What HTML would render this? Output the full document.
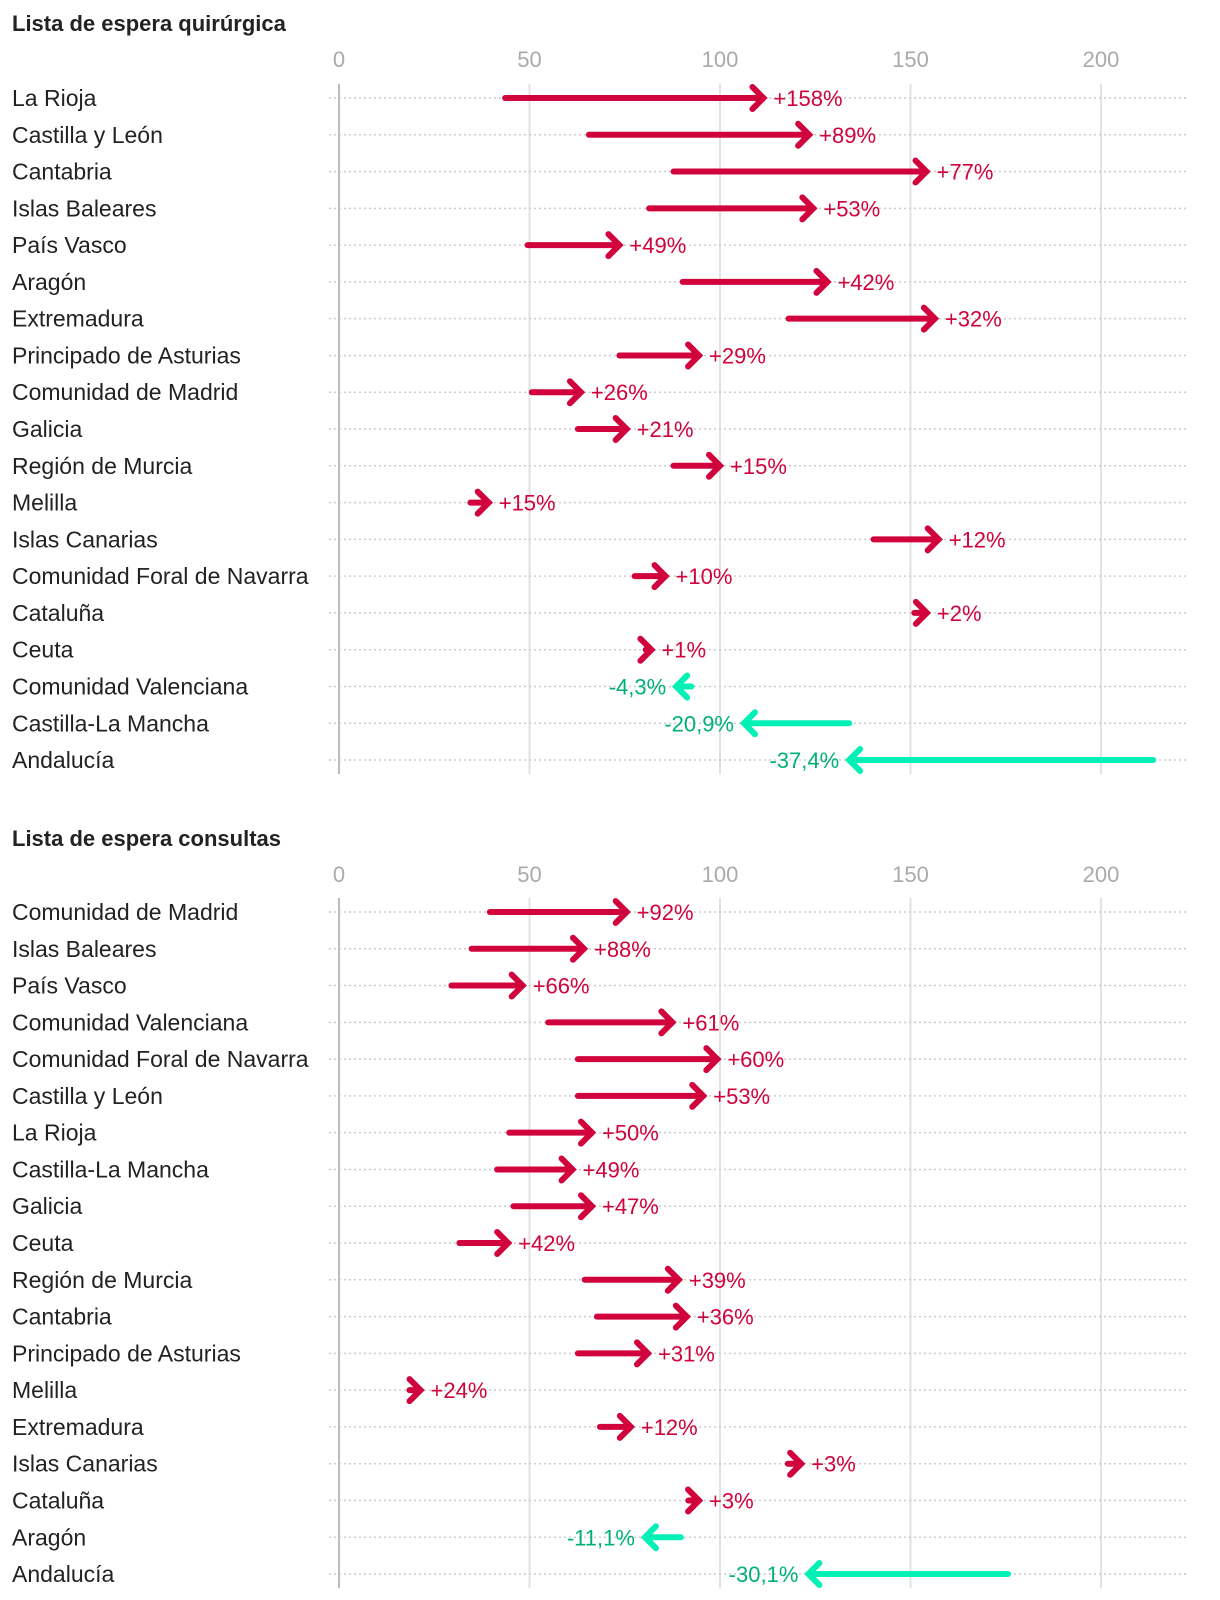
<!DOCTYPE html>
<html><head><meta charset="utf-8">
<style>
html,body{margin:0;padding:0;background:#fff;}
svg{display:block;font-family:"Liberation Sans",sans-serif;}
</style></head>
<body>
<svg id="chart" width="1220" height="1600" viewBox="0 0 1220 1600" xmlns="http://www.w3.org/2000/svg"></svg>
<script>
const ticks = [0, 50, 100, 150, 200];
const surgNames = ["La Rioja","Castilla y León","Cantabria","Islas Baleares","País Vasco","Aragón","Extremadura","Principado de Asturias","Comunidad de Madrid","Galicia","Región de Murcia","Melilla","Islas Canarias","Comunidad Foral de Navarra","Cataluña","Ceuta","Comunidad Valenciana","Castilla-La Mancha","Andalucía"];
const surgStart = [43.6,65.6,87.8,81.4,49.5,90.2,118,73.6,50.6,62.7,87.8,34.5,140.3,77.6,151,80.5,92.5,133.9,213.7];
const surgEnd = [111.4,123.4,154.2,124.5,73.6,128.2,156.4,94.5,63.5,75.5,100,39.3,157.4,85.7,154.3,82,88.5,106.3,133.9];
const surgLabels = ["+158%","+89%","+77%","+53%","+49%","+42%","+32%","+29%","+26%","+21%","+15%","+15%","+12%","+10%","+2%","+1%","-4,3%","-20,9%","-37,4%"];
const consNames = ["Comunidad de Madrid","Islas Baleares","País Vasco","Comunidad Valenciana","Comunidad Foral de Navarra","Castilla y León","La Rioja","Castilla-La Mancha","Galicia","Ceuta","Región de Murcia","Cantabria","Principado de Asturias","Melilla","Extremadura","Islas Canarias","Cataluña","Aragón","Andalucía"];
const consStart = [39.6,34.8,29.5,54.9,62.7,62.7,44.7,41.5,45.8,31.6,64.5,67.7,62.7,18.5,68.5,117.8,91.7,89.7,175.6];
const consEnd = [75.5,64.3,48.2,87.5,99.3,95.6,66.4,61.3,66.4,44.4,89.2,91.3,81.1,21.4,76.6,121.3,94.5,80.3,123.2];
const consLabels = ["+92%","+88%","+66%","+61%","+60%","+53%","+50%","+49%","+47%","+42%","+39%","+36%","+31%","+24%","+12%","+3%","+3%","-11,1%","-30,1%"];

const svg = document.getElementById('chart');
const NS = 'http://www.w3.org/2000/svg';
const x = v => 339 + v * 3.81;
function mk(tag, attrs, parent){const e=document.createElementNS(NS,tag);for(const k in attrs)e.setAttribute(k,attrs[k]);(parent||svg).appendChild(e);return e;}

function drawChart(key, title, titleY, tickY, row0, names, starts, ends, labels){
  const step = 36.78;
  const g = mk('g',{});
  
  
  const t = mk('text',{x:12,y:titleY,'font-size':22,'font-weight':'bold',fill:'#222'},g);
  t.textContent = title;
  
  
  const gTop = row0 - 14, gBot = row0 + step*(names.length-1) + 14;
  ticks.forEach(v=>{
    const l = mk('line',{x1:x(v),x2:x(v),y1:gTop,y2:gBot,stroke:v===0?'#bbb':'#e2e2e2','stroke-width':2},g);
    
    
    const tl = mk('text',{x:x(v),y:tickY,'font-size':22,fill:'#aaa','text-anchor':'middle'},g);
    tl.textContent = v;
    
    
  });
  names.forEach((n,i)=>{
    const y = row0 + i*step;
    const hl = mk('line',{x1:329,x2:1189,y1:y,y2:y,stroke:'#ccc','stroke-width':1.5,'stroke-dasharray':'2 3'},g);
    
    
    const lt = mk('text',{x:12,y:y+8,'font-size':23,fill:'#222'},g);
    lt.textContent = n;
    
    
    const s = x(starts[i]), e = x(ends[i]);
    const up = ends[i] >= starts[i];
    const col = up ? '#d0033c' : '#00f0b5';
    const dir = up ? 1 : -1;
    const a = mk('g',{},g);
    
    
    mk('line',{x1:s,x2:e-dir*3,y1:y,y2:y,stroke:col,'stroke-width':6,'stroke-linecap':'round'},a);
    mk('polyline',{points:`${e-dir*11},${y-11} ${e},${y} ${e-dir*11},${y+11}`,fill:'none',stroke:col,'stroke-width':6,'stroke-linecap':'round','stroke-linejoin':'miter'},a);
    const vt = mk('text',{x:e+dir*10,y:y+8,'font-size':22,fill:up?'#d0033c':'#00b07a','text-anchor':up?'start':'end'},g);
    vt.textContent = labels[i];
    
    
  });
}
drawChart('surgery','Lista de espera quirúrgica',31,67,98,surgNames,surgStart,surgEnd,surgLabels);
drawChart('consult','Lista de espera consultas',846,882,912,consNames,consStart,consEnd,consLabels);
</script>
</body></html>
